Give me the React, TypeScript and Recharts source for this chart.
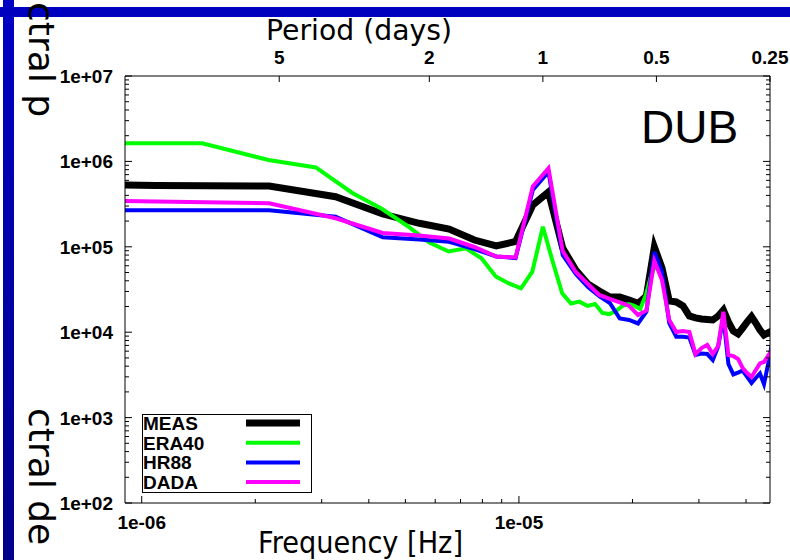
import React from 'react';
import { LineChart, Line, XAxis, YAxis, Legend } from 'recharts';

const W = 790;
const H = 560;
const X_MIN = 9.03e-7;
const X_MAX = 4.63e-5;
const Y_MIN = 1e2;
const Y_MAX = 1e7;

// MEAS / HR88 / DADA share one frequency grid (Hz)
const measFreq = [
  9.03e-7, 1.089e-6, 2.177e-6, 3.266e-6, 4.354e-6, 5.443e-6, 6.531e-6, 7.62e-6, 8.708e-6, 9.797e-6,
  1.0885e-5, 1.1974e-5, 1.3062e-5, 1.4151e-5, 1.5239e-5, 1.6328e-5, 1.7416e-5, 1.8505e-5, 1.9593e-5, 2.0682e-5,
  2.177e-5, 2.2859e-5, 2.3947e-5, 2.5036e-5, 2.6124e-5, 2.7213e-5, 2.8301e-5, 2.939e-5, 3.0478e-5, 3.1567e-5,
  3.2655e-5, 3.3744e-5, 3.4832e-5, 3.5921e-5, 3.7009e-5, 3.8098e-5, 3.9186e-5, 4.0275e-5, 4.1363e-5, 4.2452e-5,
  4.354e-5, 4.4629e-5, 4.5717e-5, 4.6806e-5,
];
const measVal = [
  5.29e5, 5.22e5, 5.15e5, 3.86e5, 2.42e5, 1.885e5, 1.616e5, 1.201e5, 1.022e5, 1.154e5,
  3.087e5, 4.38e5, 9.68e4, 5.35e4, 3.67e4, 3.04e4, 2.58e4, 2.58e4, 2.38e4, 2.18e4,
  2.65e4, 9.95e4, 5.65e4, 2.32e4, 2.26e4, 2.03e4, 1.55e4, 1.47e4, 1.43e4, 1.41e4,
  1.39e4, 1.55e4, 1.82e4, 1.32e4, 1.03e4, 9.53e3, 1.12e4, 1.32e4, 1.52e4, 1.28e4,
  1.06e4, 9.27e3, 9.79e3, 1.03e4,
];
const hr88Val = [
  2.676e5, 2.676e5, 2.676e5, 2.252e5, 1.292e5, 1.218e5, 1.147e5, 9.42e4, 7.7e4, 7.39e4,
  4.63e5, 7.51e5, 8.02e4, 4.8e4, 3.38e4, 2.65e4, 2.2e4, 1.447e4, 1.39e4, 1.265e4,
  1.738e4, 8.69e4, 5.07e4, 1.28e4, 8.86e3, 8.86e3, 8.67e3, 5.41e3, 5.63e3, 5.55e3,
  4.73e3, 6.8e3, 1.52e4, 4.24e3, 3.2e3, 3.37e3, 3.56e3, 2.99e3, 2.54e3, 2.91e3,
  3.28e3, 2.47e3, 4.13e3, 7.08e3,
];
const dadaVal = [
  3.44e5, 3.39e5, 3.23e5, 2.157e5, 1.451e5, 1.357e5, 1.251e5, 9.95e4, 7.7e4, 7.49e4,
  5.08e5, 8.3e5, 8.93e4, 5.07e4, 3.67e4, 2.73e4, 2.45e4, 2.23e4, 2.03e4, 1.59e4,
  1.796e4, 6.82e4, 4.08e4, 1.39e4, 1.005e4, 1.03e4, 1.005e4, 5.55e3, 6.53e3, 7.08e3,
  5.55e3, 6.89e3, 1.738e4, 5.41e3, 5.26e3, 4.86e3, 3.81e3, 3.33e3, 2.99e3, 3.61e3,
  4.32e3, 4.48e3, 5.26e3, 6.19e3,
];

// ERA40 has its own grid, ending at 2 cycles/day
const era40Freq = [
  9.03e-7, 1.447e-6, 2.17e-6, 2.894e-6, 3.617e-6, 4.34e-6, 5.064e-6, 5.787e-6, 6.51e-6, 7.234e-6,
  7.957e-6, 8.681e-6, 9.404e-6, 1.0127e-5, 1.0851e-5, 1.1574e-5, 1.2297e-5, 1.3021e-5, 1.3744e-5, 1.4468e-5,
  1.5191e-5, 1.5914e-5, 1.6638e-5, 1.7361e-5, 1.8084e-5, 1.8808e-5, 1.9531e-5, 2.0255e-5, 2.0978e-5, 2.1701e-5,
  2.2425e-5, 2.3148e-5,
];
const era40Val = [
  1.629e6, 1.629e6, 1.038e6, 8.49e5, 4.27e5, 2.77e5, 1.752e5, 1.123e5, 8.81e4, 9.6e4,
  7.33e4, 4.49e4, 3.72e4, 3.27e4, 5.11e4, 1.719e5, 6.64e4, 2.855e4, 2.17e4, 2.28e4,
  2.03e4, 2.14e4, 1.68e4, 1.63e4, 1.77e4, 2.03e4, 2.14e4, 2.03e4, 1.87e4, 2.73e4,
  4.68e4, 6.29e4,
];

const seriesNames = ['MEAS', 'ERA40', 'HR88', 'DADA'];
const seriesColors = ['#000000', '#00ff00', '#0000ff', '#ff00ff'];
const seriesWidths = [7, 4, 4, 4];

const xMajorTicks = [1e-6, 1e-5];
const xMajorLabels = ['1e-06', '1e-05'];
const xMinorTicks = [2e-6, 3e-6, 4e-6, 5e-6, 6e-6, 7e-6, 8e-6, 9e-6, 2e-5, 3e-5, 4e-5];
const yMajorTicks = [1e2, 1e3, 1e4, 1e5, 1e6, 1e7];
const yMajorLabels = ['1e+02', '1e+03', '1e+04', '1e+05', '1e+06', '1e+07'];
const yMinorMultipliers = [2, 3, 4, 5, 6, 7, 8, 9];
const periodDays = [5, 2, 1, 0.5, 0.25];
const periodLabels = ['5', '2', '1', '0.5', '0.25'];

const yMinorTicks: number[] = [];
yMajorTicks.slice(0, -1).forEach((d) => yMinorMultipliers.forEach((m) => yMinorTicks.push(d * m)));
const periodFreqs = periodDays.map((d) => 1 / (d * 86400));

const toRows = (f: number[], v: number[]) => f.map((x, i) => ({ f: x, v: v[i] }));
const seriesData = [
  toRows(measFreq, measVal),
  toRows(era40Freq, era40Val),
  toRows(measFreq, hr88Val),
  toRows(measFreq, dadaVal),
];

const tickFont: React.CSSProperties = {
  fontFamily: '"Liberation Sans", Arial, sans-serif',
  fontWeight: 'bold',
  fontSize: 19,
  fill: '#000',
};

const near = (a: number, b: number) => Math.abs(a - b) / b < 1e-6;

const BottomTick = (p: any) => {
  const { x, payload } = p;
  const y = 503;
  const idx = xMajorTicks.findIndex((t) => near(payload.value, t));
  const major = idx >= 0;
  return (
    <g>
      <line x1={x} x2={x} y1={y} y2={y - (major ? 7 : 4)} stroke="#000" strokeWidth={1} />
      {major && (
        <text x={x} y={y + 26} textAnchor="middle" style={tickFont}>
          {xMajorLabels[idx]}
        </text>
      )}
    </g>
  );
};

const TopTick = (p: any) => {
  const { x, index } = p;
  const y = 76;
  return (
    <g>
      <line x1={x} x2={x} y1={y} y2={y + 6} stroke="#000" strokeWidth={1} />
      <text x={x} y={y - 12} textAnchor="middle" style={tickFont}>
        {periodLabels[index]}
      </text>
    </g>
  );
};

const LeftTick = (p: any) => {
  const { y, payload } = p;
  const x = 125;
  const idx = yMajorTicks.findIndex((t) => near(payload.value, t));
  const major = idx >= 0;
  return (
    <g>
      <line x1={x} x2={x + (major ? 7 : 4)} y1={y} y2={y} stroke="#000" strokeWidth={1} />
      {major && (
        <text x={x - 12} y={y + 7} textAnchor="end" style={tickFont}>
          {yMajorLabels[idx]}
        </text>
      )}
    </g>
  );
};

const RightTick = (p: any) => {
  const { y, payload } = p;
  const x = 770;
  const major = yMajorTicks.findIndex((t) => near(payload.value, t)) >= 0;
  return <line x1={x} x2={x - (major ? 7 : 4)} y1={y} y2={y} stroke="#000" strokeWidth={1} />;
};

const LegendBox = () => (
  <svg width={170} height={79} style={{ display: 'block', overflow: 'visible' }}>
    <rect x={0.5} y={0.5} width={169} height={78} fill="none" stroke="#000" strokeWidth={1} />
    {seriesNames.map((name, i) => {
      const cy = 9 + i * 19.7;
      return (
        <g key={name}>
          <text x={1} y={cy + 7} style={tickFont}>
            {name}
          </text>
          <line x1={104} x2={158} y1={cy} y2={cy} stroke={seriesColors[i]} strokeWidth={seriesWidths[i]} />
        </g>
      );
    })}
  </svg>
);

const titleFont = '"DejaVu Sans", Verdana, sans-serif';

export default function App() {
  return (
    <div style={{ position: 'absolute', left: 0, top: 0, width: W, height: H, background: '#fff' }}>
      <LineChart width={W} height={H} margin={{ top: 75, right: 19, bottom: 56, left: 124 }}>
        <XAxis
          xAxisId="b"
          type="number"
          dataKey="f"
          scale="log"
          domain={[X_MIN, X_MAX]}
          allowDataOverflow
          ticks={[...xMajorTicks, ...xMinorTicks]}
          interval={0}
          height={1}
          tickSize={0}
          tickMargin={0}
          tickLine={false}
          axisLine={{ stroke: '#000', strokeWidth: 1 }}
          tick={(p: any) => <BottomTick {...p} />}
        />
        <XAxis
          xAxisId="t"
          orientation="top"
          type="number"
          dataKey="f"
          scale="log"
          domain={[X_MIN, X_MAX]}
          allowDataOverflow
          ticks={periodFreqs}
          interval={0}
          height={1}
          tickSize={0}
          tickMargin={0}
          tickLine={false}
          axisLine={{ stroke: '#000', strokeWidth: 1 }}
          tick={(p: any) => <TopTick {...p} />}
        />
        <YAxis
          yAxisId="l"
          type="number"
          dataKey="v"
          scale="log"
          domain={[Y_MIN, Y_MAX]}
          allowDataOverflow
          ticks={[...yMajorTicks, ...yMinorTicks]}
          interval={0}
          width={1}
          tickSize={0}
          tickMargin={0}
          tickLine={false}
          axisLine={{ stroke: '#000', strokeWidth: 1 }}
          tick={(p: any) => <LeftTick {...p} />}
        />
        <YAxis
          yAxisId="r"
          orientation="right"
          type="number"
          dataKey="v"
          scale="log"
          domain={[Y_MIN, Y_MAX]}
          allowDataOverflow
          ticks={[...yMajorTicks, ...yMinorTicks]}
          interval={0}
          width={1}
          tickSize={0}
          tickMargin={0}
          tickLine={false}
          axisLine={{ stroke: '#000', strokeWidth: 1 }}
          tick={(p: any) => <RightTick {...p} />}
        />
        {seriesNames.map((name, i) => (
          <Line
            key={name}
            name={name}
            data={seriesData[i]}
            dataKey="v"
            xAxisId="b"
            yAxisId="l"
            type="linear"
            stroke={seriesColors[i]}
            strokeWidth={seriesWidths[i]}
            dot={false}
            activeDot={false}
            isAnimationActive={false}
          />
        ))}
        <Legend
          layout="horizontal"
          verticalAlign="middle"
          align="center"
          content={() => <LegendBox />}
          wrapperStyle={{ left: 142, top: 414, width: 170, height: 79 }}
        />
      </LineChart>
      <svg
        width={W}
        height={H}
        style={{ position: 'absolute', left: 0, top: 0, pointerEvents: 'none' }}
      >
        <defs>
          <linearGradient id="leftBar" x1="0" y1="0" x2="0" y2="1">
            <stop offset="0" stopColor="#0000c4" />
            <stop offset="1" stopColor="#00008a" />
          </linearGradient>
        </defs>
        <rect x={3} y={0} width={11} height={H} fill="url(#leftBar)" />
        <rect x={0} y={7} width={W} height={10} fill="#0000bf" />
        <text
          transform="translate(29,2) rotate(90)"
          style={{ fontFamily: titleFont, fontSize: 36, fill: '#000' }}
        >
          ctral p
        </text>
        <text
          transform="translate(29,408) rotate(90)"
          style={{ fontFamily: titleFont, fontSize: 36, fill: '#000' }}
        >
          ctral de
        </text>
        <text
          x={266}
          y={40}
          textLength={186}
          lengthAdjust="spacingAndGlyphs"
          style={{ fontFamily: titleFont, fontSize: 28, fill: '#000' }}
        >
          Period (days)
        </text>
        <text
          x={258}
          y={553}
          textLength={205}
          lengthAdjust="spacingAndGlyphs"
          style={{ fontFamily: titleFont, fontSize: 30, fill: '#000' }}
        >
          Frequency [Hz]
        </text>
        <text
          x={641}
          y={143}
          style={{ fontFamily: '"Liberation Sans", Arial, sans-serif', fontSize: 46, fill: '#000' }}
        >
          DUB
        </text>
      </svg>
    </div>
  );
}
